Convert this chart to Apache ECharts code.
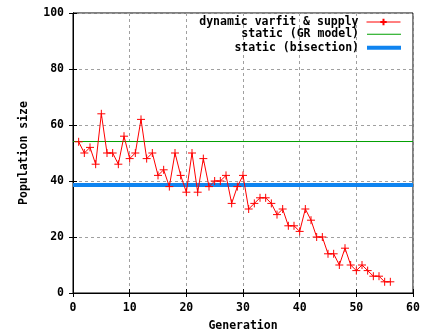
<!DOCTYPE html>
<html>
<head>
<meta charset="utf-8">
<script src="https://cdn.jsdelivr.net/npm/echarts@6/dist/echarts.min.js"></script>
<style>
  html, body { margin: 0; padding: 0; background: #fff; }
  #chart { width: 447px; height: 335px; }
</style>
</head>
<body>
<div id="chart"></div>
<script>
// population per generation (gen 1..56)
var generations = [];
for (var g = 1; g <= 56; g++) generations.push(g);
var dynamicSizes = [54, 50, 52, 46, 64, 50, 50, 46, 56, 48,
                    50, 62, 48, 50, 42, 44, 38, 50, 42, 36,
                    50, 36, 48, 38, 40, 40, 42, 32, 38, 42,
                    30, 32, 34, 34, 32, 28, 30, 24, 24, 22,
                    30, 26, 20, 20, 14, 14, 10, 16, 10, 8,
                    10, 8, 6, 6, 4, 4];
var staticGR = 54.1;
var staticBisection = 38.6;
var xRange = [0, 60];
var seriesNames = ['dynamic varfit & supply', 'static (GR model)', 'static (bisection)'];

var font = 'DejaVu Sans Mono';
var txt = { fontFamily: font, fontWeight: 'bold', fontSize: 11.5, color: '#000' };

var myChart = echarts.init(document.getElementById('chart'));

// one legend per row so each one can be right aligned
var legendRows = [23, 35.3, 48.7];
var legendIcons = [null, 'rect', 'rect'];
var legendHeights = [8, 1, 4];
var legends = seriesNames.map(function (name, i) {
  var item = { name: name };
  if (legendIcons[i]) item.icon = legendIcons[i];
  return {
    data: [item],
    orient: 'vertical',
    align: 'right',
    right: 46,
    top: legendRows[i] - 7,
    itemWidth: 34,
    itemHeight: legendHeights[i],
    padding: 0,
    selectedMode: false,
    lineStyle: { width: 1 },
    textStyle: Object.assign({ padding: [0, 3, 0, 0] }, txt)
  };
});

var option = {
  animation: false,
  backgroundColor: '#fff',
  grid: {
    left: 73, right: 34, top: 13, bottom: 42,
    containLabel: false,
    outerBoundsMode: 'none',
    show: true, borderColor: '#000', borderWidth: 1,
    backgroundColor: 'transparent'
  },
  legend: legends,
  xAxis: [{
    type: 'value', min: 0, max: 60, interval: 10,
    name: 'Generation', nameLocation: 'middle', nameGap: 27,
    nameTextStyle: txt,
    axisLine: { show: true, lineStyle: { color: '#000', width: 1 } },
    axisTick: { show: true, inside: true, length: 4, lineStyle: { color: '#000' } },
    axisLabel: Object.assign({ margin: 9 }, txt),
    splitLine: { show: true, lineStyle: { color: '#a0a0a0', type: [3, 3], width: 1 } }
  }, {
    type: 'value', min: 0, max: 60, interval: 10, position: 'top',
    axisLine: { show: true, lineStyle: { color: '#000' } },
    axisTick: { show: true, inside: true, length: 4, lineStyle: { color: '#000' } },
    axisLabel: { show: false },
    splitLine: { show: false }
  }],
  yAxis: [{
    type: 'value', min: 0, max: 100, interval: 20,
    name: 'Population size', nameLocation: 'middle', nameGap: 43,
    nameTextStyle: txt,
    axisLine: { show: true, lineStyle: { color: '#000', width: 1 } },
    axisTick: { show: true, inside: true, length: 4, lineStyle: { color: '#000' } },
    axisLabel: Object.assign({ margin: 9 }, txt),
    splitLine: { show: true, lineStyle: { color: '#a0a0a0', type: [3, 3], width: 1 } }
  }, {
    type: 'value', min: 0, max: 100, interval: 20, position: 'right',
    axisLine: { show: true, lineStyle: { color: '#000' } },
    axisTick: { show: true, inside: true, length: 4, lineStyle: { color: '#000' } },
    axisLabel: { show: false },
    splitLine: { show: false }
  }],
  series: [
    {
      name: seriesNames[1],
      type: 'line',
      data: xRange.map(function (x) { return [x, staticGR]; }),
      symbol: 'none',
      lineStyle: { color: '#00a000', width: 1 },
      itemStyle: { color: '#00a000' },
      z: 2
    },
    {
      name: seriesNames[2],
      type: 'line',
      data: xRange.map(function (x) { return [x, staticBisection]; }),
      symbol: 'none',
      lineStyle: { color: '#0f84f0', width: 4 },
      itemStyle: { color: '#0f84f0' },
      z: 2
    },
    {
      name: seriesNames[0],
      type: 'line',
      data: generations.map(function (g, i) { return [g, dynamicSizes[i]]; }),
      symbol: 'path://M0,5L10,5M5,0L5,10',
      symbolSize: 8,
      showAllSymbol: true,
      lineStyle: { color: '#ff0000', width: 1 },
      itemStyle: { color: 'none', borderColor: '#ff0000', borderWidth: 1 },
      z: 3
    }
  ]
};

myChart.setOption(option);
</script>
</body>
</html>
